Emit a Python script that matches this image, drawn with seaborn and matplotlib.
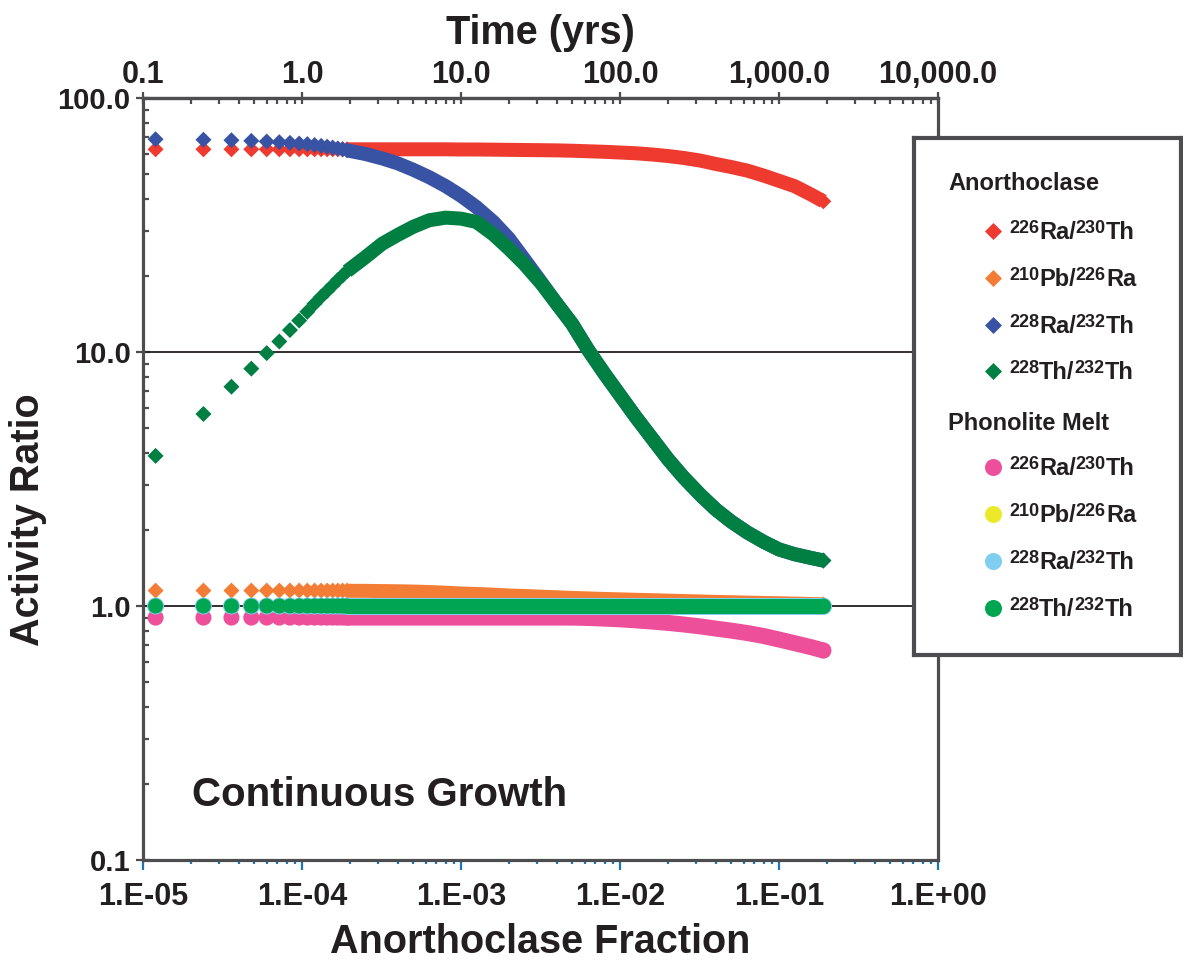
import matplotlib
matplotlib.use("Agg")
import matplotlib.pyplot as plt
import seaborn as sns

# ---------------------------------------------------------------------------
# Data: activity ratios versus anorthoclase fraction (continuous growth model)
# ---------------------------------------------------------------------------
# first, well separated model steps
frac_pts = [1.2e-5, 2.4e-5, 3.6e-5, 4.8e-5, 6.0e-5, 7.2e-5, 8.4e-5, 9.6e-5,
            1.08e-4, 1.20e-4, 1.32e-4, 1.44e-4, 1.56e-4, 1.68e-4, 1.80e-4, 1.92e-4]
# later steps, so closely spaced that they merge into a continuous band
frac_band = [1.92e-4, 2.5e-4, 3.2e-4, 4.0e-4, 5.0e-4, 6.3e-4, 8.0e-4,
             1.0e-3, 1.25e-3, 1.6e-3, 2.0e-3, 2.5e-3, 3.2e-3, 4.0e-3, 5.0e-3, 6.3e-3, 8.0e-3,
             1.0e-2, 1.25e-2, 1.6e-2, 2.0e-2, 2.5e-2, 3.2e-2, 4.0e-2, 5.0e-2, 6.3e-2, 8.0e-2,
             0.10, 0.125, 0.16, 0.19]

# Anorthoclase
ano_ra226_th230_pts = [62.8] * 16
ano_ra226_th230_band = [62.8, 62.8, 62.8, 62.8, 62.8, 62.8, 62.8,
                        62.7, 62.7, 62.6, 62.5, 62.4, 62.3, 62.2, 62.0, 61.7, 61.4,
                        61.0, 60.6, 59.9, 59.1, 58.1, 56.7, 55.0, 53.5, 51.8, 49.5,
                        47.2, 45.0, 41.6, 39.2]
ano_pb210_ra226_pts = [1.15] * 16
ano_pb210_ra226_band = [1.148, 1.147, 1.145, 1.143, 1.14, 1.135, 1.128,
                        1.12, 1.115, 1.108, 1.10, 1.095, 1.088, 1.082, 1.076, 1.071, 1.066,
                        1.062, 1.058, 1.054, 1.05, 1.046, 1.042, 1.038, 1.035, 1.031, 1.028,
                        1.025, 1.022, 1.018, 1.015]
ano_ra228_th232_pts = [68.8, 68.5, 68.2, 67.8, 67.4, 67.0, 66.6, 66.2,
                       65.8, 65.3, 64.8, 64.3, 63.8, 63.3, 62.8, 62.3]
ano_ra228_th232_band = [62.2, 60.2, 57.8, 55.3, 52.2, 48.8, 45.0,
                        41.2, 37.2, 32.5, 28.0, 23.2, 18.8, 15.5, 12.9, 10.2, 8.2,
                        6.76, 5.57, 4.55, 3.79, 3.22, 2.74, 2.40, 2.15, 1.95, 1.79,
                        1.67, 1.60, 1.545, 1.51]
ano_th228_th232_pts = [3.9, 5.7, 7.3, 8.6, 9.9, 11.0, 12.2, 13.3,
                       14.4, 15.5, 16.5, 17.4, 18.3, 19.2, 20.0, 20.8]
ano_th228_th232_band = [20.8, 23.6, 26.7, 28.9, 31.1, 33.0, 33.8,
                        33.5, 32.5, 29.0, 25.5, 22.2, 18.6, 15.5, 12.9, 10.2, 8.2,
                        6.76, 5.57, 4.55, 3.79, 3.22, 2.74, 2.40, 2.15, 1.95, 1.79,
                        1.67, 1.60, 1.545, 1.51]

# Phonolite melt
pho_ra226_th230_pts = [0.90] * 16
pho_ra226_th230_band = [0.90, 0.90, 0.90, 0.90, 0.90, 0.90, 0.90,
                        0.90, 0.90, 0.90, 0.90, 0.90, 0.90, 0.90, 0.90, 0.897, 0.892,
                        0.886, 0.878, 0.868, 0.858, 0.846, 0.831, 0.815, 0.80, 0.783, 0.762,
                        0.738, 0.714, 0.688, 0.668]
pho_pb210_ra226_pts = [1.0] * 16
pho_pb210_ra226_band = [1.0] * 31
pho_ra228_th232_pts = [1.0] * 16
pho_ra228_th232_band = [1.0] * 31
pho_th228_th232_pts = [1.0] * 16
pho_th228_th232_band = [1.0] * 31

# legend labels: (text, is_superscript) pieces
label_parts = [
    [("226", True), ("Ra/", False), ("230", True), ("Th", False)],
    [("210", True), ("Pb/", False), ("226", True), ("Ra", False)],
    [("228", True), ("Ra/", False), ("232", True), ("Th", False)],
    [("228", True), ("Th/", False), ("232", True), ("Th", False)],
]
group_titles = ["Anorthoclase", "Phonolite Melt"]

y_ticks = [0.1, 1.0, 10.0, 100.0]
y_ticklabels = ["0.1", "1.0", "10.0", "100.0"]
x_ticks = [1e-5, 1e-4, 1e-3, 1e-2, 1e-1, 1e0]
x_ticklabels = ["1.E-05", "1.E-04", "1.E-03", "1.E-02", "1.E-01", "1.E+00"]
t_ticks = [0.1, 1.0, 10.0, 100.0, 1000.0, 10000.0]
t_ticklabels = ["0.1", "1.0", "10.0", "100.0", "1,000.0", "10,000.0"]
YEARS_PER_FRACTION = 1e4

# ---------------------------------------------------------------------------
sns.set_theme(style="white")
plt.rcParams["font.family"] = ["Liberation Sans", "DejaVu Sans"]
plt.rcParams["font.weight"] = "bold"

INK = "#231f20"
FRAME = "#4d4d4f"
TICK_BLUE = "#1b75bc"
PX = 0.72  # points per pixel at 100 dpi

W, H = 1183, 961
fig = plt.figure(figsize=(W / 100, H / 100), dpi=100)
fig.patch.set_facecolor("white")

L, R, T, B = 143, 938, 98, 860
ax = fig.add_axes([L / W, 1 - B / H, (R - L) / W, (B - T) / H])
ax.set_xscale("log")
ax.set_yscale("log")
ax.set_xlim(1e-5, 1.0)
ax.set_ylim(0.1, 100)
ax.set_facecolor("white")

# reference lines at ratios of 1 and 10
for yv in (1.0, 10.0):
    ax.axhline(yv, color=INK, lw=1.3, zorder=1)

styles = [
    # (points, band, color, marker, marker px, band px, cap)
    (ano_ra226_th230_pts, ano_ra226_th230_band, "#ee3a2f", "D", 16, 14, "butt"),
    (ano_pb210_ra226_pts, ano_pb210_ra226_band, "#f47d35", "D", 16, 14, "butt"),
    (ano_ra228_th232_pts, ano_ra228_th232_band, "#3953a4", "D", 16, 14, "butt"),
    (ano_th228_th232_pts, ano_th228_th232_band, "#007f42", "D", 16, 14, "butt"),
    (pho_ra226_th230_pts, pho_ra226_th230_band, "#ed4f9b", "o", 16, 16, "round"),
    (pho_pb210_ra226_pts, pho_pb210_ra226_band, "#ece82a", "o", 16, 16, "round"),
    (pho_ra228_th232_pts, pho_ra228_th232_band, "#7fcdef", "o", 17, 17, "round"),
    (pho_th228_th232_pts, pho_th228_th232_band, "#00a551", "o", 15, 15, "round"),
]


def marker_area(marker, px):
    if marker == "D":
        ms = px * PX / 1.414
    else:
        ms = px * PX
    return ms ** 2


for i, (pts, band, color, marker, mpx, bpx, cap) in enumerate(styles):
    z = 3 + i
    sns.lineplot(x=frac_band, y=band, ax=ax, color=color, linewidth=bpx * PX,
                 estimator=None, solid_capstyle=cap, solid_joinstyle="round", zorder=z)
    sns.scatterplot(x=frac_pts + [frac_band[-1]], y=pts + [band[-1]], ax=ax,
                    marker=marker, s=marker_area(marker, mpx), color=color,
                    linewidth=0, edgecolor="none", zorder=z)

# frame
for sp in ax.spines.values():
    sp.set_color(FRAME)
    sp.set_linewidth(2.3)
    sp.set_zorder(2)

# bottom axis: anorthoclase fraction
ax.xaxis.set_major_locator(matplotlib.ticker.FixedLocator(x_ticks))
ax.xaxis.set_major_formatter(matplotlib.ticker.FixedFormatter(x_ticklabels))
ax.xaxis.set_minor_locator(matplotlib.ticker.LogLocator(base=10, subs=range(2, 10)))
ax.xaxis.set_minor_formatter(matplotlib.ticker.NullFormatter())
ax.tick_params(axis="x", which="major", direction="out", length=7, width=1.6,
               color=TICK_BLUE, pad=9, labelsize=22, labelcolor=INK, bottom=True)
ax.tick_params(axis="x", which="minor", direction="out", length=3, width=1.6,
               color=TICK_BLUE, bottom=True)

# left axis: activity ratio
ax.yaxis.set_major_locator(matplotlib.ticker.FixedLocator(y_ticks))
ax.yaxis.set_major_formatter(matplotlib.ticker.FixedFormatter(y_ticklabels))
ax.yaxis.set_minor_locator(matplotlib.ticker.LogLocator(base=10, subs=range(2, 10)))
ax.yaxis.set_minor_formatter(matplotlib.ticker.NullFormatter())
ax.tick_params(axis="y", which="major", direction="inout", length=10, width=1.6,
               color=FRAME, pad=4, labelsize=21, labelcolor=INK, left=True)
ax.tick_params(axis="y", which="minor", direction="in", length=4, width=1.6,
               color=FRAME, left=True)

# top axis: elapsed time
secax = ax.secondary_xaxis("top", functions=(lambda f: f * YEARS_PER_FRACTION,
                                             lambda t: t / YEARS_PER_FRACTION))
secax.xaxis.set_major_locator(matplotlib.ticker.FixedLocator(t_ticks))
secax.xaxis.set_major_formatter(matplotlib.ticker.FixedFormatter(t_ticklabels))
secax.xaxis.set_minor_locator(matplotlib.ticker.LogLocator(base=10, subs=range(2, 10)))
secax.xaxis.set_minor_formatter(matplotlib.ticker.NullFormatter())
secax.tick_params(axis="x", which="major", direction="inout", length=8, width=1.6,
                  color=FRAME, pad=2, labelsize=22, labelcolor=INK)
secax.tick_params(axis="x", which="minor", direction="in", length=4, width=1.6,
                  color=FRAME)
for sp in secax.spines.values():
    sp.set_color(FRAME)
    sp.set_linewidth(2.3)

ax.set_xlabel("")
ax.set_ylabel("")

# titles
fig.text(540 / W, 1 - 33 / H, "Time (yrs)", ha="center", va="center",
         fontsize=28.5, fontweight="bold", color=INK)
fig.text(540 / W, 1 - 942 / H, "Anorthoclase Fraction", ha="center", va="center",
         fontsize=28.5, fontweight="bold", color=INK)
fig.text(28 / W, 1 - 520 / H, "Activity Ratio", ha="center", va="center",
         rotation=90, fontsize=28.5, fontweight="bold", color=INK)
fig.text(192 / W, 1 - 795 / H, "Continuous Growth", ha="left", va="center",
         fontsize=29, fontweight="bold", color=INK)

# legend panel (axes in pixel units: 1 data unit == 1 pixel)
LX0, LX1, LY0, LY1 = 914, 1181, 138, 655
lax = fig.add_axes([LX0 / W, 1 - LY1 / H, (LX1 - LX0) / W, (LY1 - LY0) / H])
lax.set_zorder(5)
lax.set_facecolor("white")
lax.set_xlim(LX0, LX1)
lax.set_ylim(LY1, LY0)
lax.set_xticks([])
lax.set_yticks([])
for sp in lax.spines.values():
    sp.set_color(FRAME)
    sp.set_linewidth(3)

renderer = fig.canvas.get_renderer()


def rich_label(x, baseline, parts, size=17, sup_size=13, raise_px=6):
    for txt, sup in parts:
        t = lax.text(x, baseline - (raise_px if sup else 0), txt, ha="left",
                     va="baseline", fontsize=sup_size if sup else size,
                     fontweight="bold", color=INK)
        x += t.get_window_extent(renderer).width


lax.text(948, 183, group_titles[0], ha="left", va="center", fontsize=17,
         fontweight="bold", color=INK)
lax.text(948, 423, group_titles[1], ha="left", va="center", fontsize=17,
         fontweight="bold", color=INK)
rows = [231, 278, 325, 371, 467, 514, 561, 608]
for (pts, band, color, marker, mpx, bpx, cap), yrow, parts in zip(
        styles, rows, label_parts * 2):
    lax.scatter([993], [yrow], marker=marker, s=marker_area(marker, 17),
                color=color, linewidth=0, zorder=3)
    rich_label(1009, yrow + 8, parts)

fig.savefig("out.png", dpi=100, facecolor="white")
